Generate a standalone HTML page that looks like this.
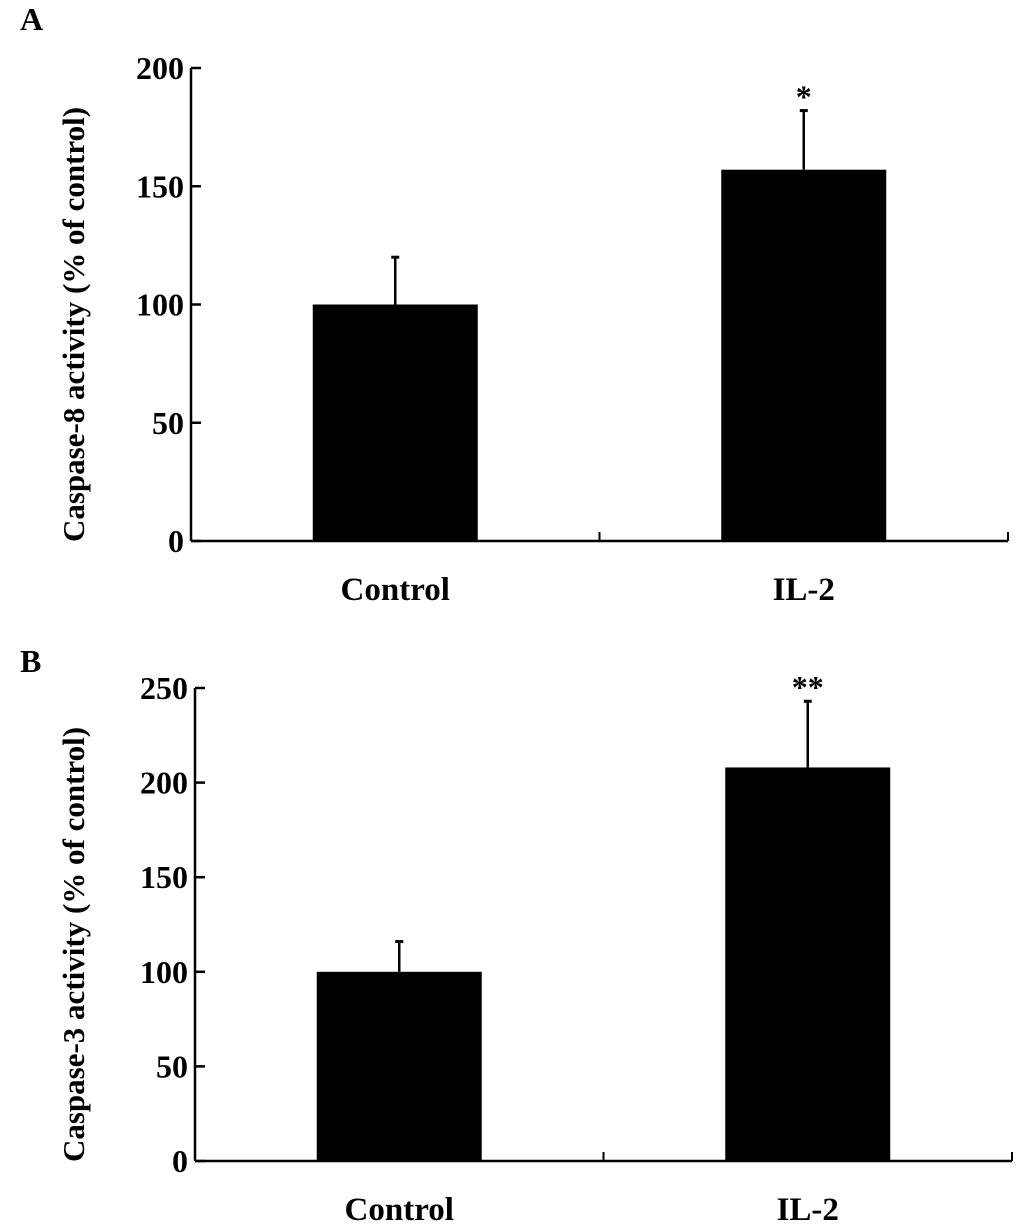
<!DOCTYPE html>
<html><head><meta charset="utf-8"><style>
html,body{margin:0;padding:0;background:#fff;}
svg{display:block;}
text{font-family:"Liberation Serif",serif;font-weight:bold;fill:#000;}
</style></head><body>
<svg id="chart" width="1033" height="1231" viewBox="0 0 1033 1231"></svg>
<script>
const categories = ["Control", "IL-2"];
const valuesA = [100, 157];
const errorsA = [20, 25];
const sigA = ["", "*"];
const ticksA = [0, 50, 100, 150, 200];
const valuesB = [100, 208];
const errorsB = [16, 35];
const sigB = ["", "**"];
const ticksB = [0, 50, 100, 150, 200, 250];

const NS = "http://www.w3.org/2000/svg";
const svg = document.getElementById("chart");
function mk(tag, attrs, parent){
  const e = document.createElementNS(NS, tag);
  for (const k in attrs) e.setAttribute(k, attrs[k]);
  (parent||svg).appendChild(e);
  return e;
}
function panel(cfg){
  const g = mk("g", {});
  
  
  const yScale = v => cfg.y0 - v / cfg.max * (cfg.y0 - cfg.yTop);
  const lbl = mk("text", {x: cfg.letterX, y: cfg.letterY, "font-size": 32}, g);
  lbl.textContent = cfg.letter;
  
  
  const yax = mk("line", {x1: cfg.x0, x2: cfg.x0, y1: cfg.yTop, y2: cfg.y0, stroke: "#000", "stroke-width": 2.5}, g);
  
  
  const xax = mk("line", {x1: cfg.x0, x2: cfg.x1, y1: cfg.y0, y2: cfg.y0, stroke: "#000", "stroke-width": 2.5}, g);
  
  
  const mid = (cfg.x0 + cfg.x1) / 2;
  [mid, cfg.x1].forEach(x => {
    const t = mk("line", {x1: x, x2: x, y1: cfg.y0, y2: cfg.y0 - 9, stroke: "#000", "stroke-width": 2}, g);
    
    
  });
  cfg.ticks.forEach(v => {
    const y = yScale(v);
    const t = mk("line", {x1: cfg.x0, x2: cfg.x0 + 10, y1: y, y2: y, stroke: "#000", "stroke-width": 2.5}, g);
    
    
    const tl = mk("text", {x: cfg.x0 - 7, y: y + 11, "font-size": 32, "text-anchor": "end"}, g);
    tl.textContent = v;
    
    
  });
  const half = (cfg.x1 - cfg.x0) / 2;
  categories.forEach((c, i) => {
    const cx = cfg.x0 + half * (i + 0.5) + cfg.shift[i];
    const bw = 165;
    const top = yScale(cfg.values[i]);
    const errTop = yScale(cfg.values[i] + cfg.errors[i]);
    const eb = mk("line", {x1: cx, x2: cx, y1: errTop, y2: top, stroke: "#000", "stroke-width": 2.5}, g);
    
    
    const ec = mk("line", {x1: cx - 4, x2: cx + 4, y1: errTop, y2: errTop, stroke: "#000", "stroke-width": 3}, g);
    
    
    const r = mk("rect", {x: cx - bw/2, y: top, width: bw, height: cfg.y0 - top, fill: "#000"}, g);
    
    
    const cl = mk("text", {x: cx, y: cfg.y0 + 59, "font-size": 33, "text-anchor": "middle"}, g);
    cl.textContent = c;
    
    
    if (cfg.sig[i]) {
      const s = mk("text", {x: cx, y: errTop - 3, "font-size": 32, "text-anchor": "middle"}, g);
      s.textContent = cfg.sig[i];
      
      
    }
  });
  const yc = (cfg.yTop + cfg.y0) / 2 + 20;
  const yt = mk("text", {x: 0, y: 0, "font-size": 31, "text-anchor": "middle", transform: "translate(" + cfg.titleX + "," + yc + ") rotate(-90)"}, g);
  yt.textContent = cfg.title;
  
  
}
panel({name: "panel-a", letter: "A", letterX: 20, letterY: 30, x0: 191, x1: 1008, y0: 541, yTop: 68, max: 200,
  ticks: ticksA, values: valuesA, errors: errorsA, sig: sigA, shift: [0, 0], titleX: 84,
  title: "Caspase-8 activity (% of control)"});
panel({name: "panel-b", letter: "B", letterX: 20, letterY: 672, x0: 195, x1: 1012, y0: 1161, yTop: 688, max: 250,
  ticks: ticksB, values: valuesB, errors: errorsB, sig: sigB, shift: [0, 0], titleX: 84,
  title: "Caspase-3 activity (% of control)"});
</script>
</body></html>
